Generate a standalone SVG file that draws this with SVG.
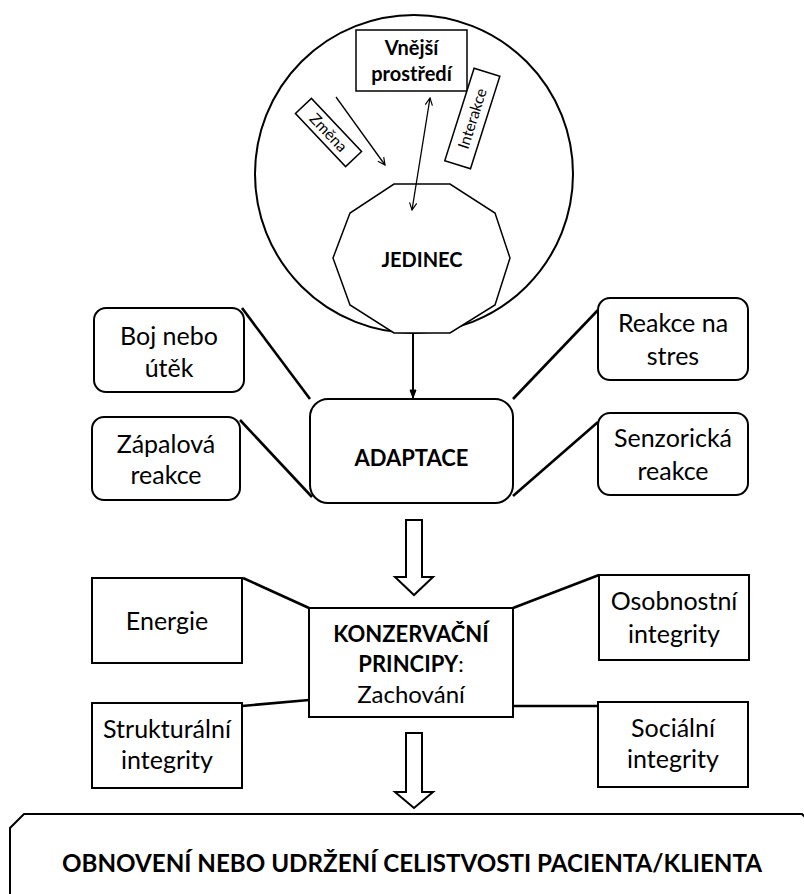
<svg xmlns="http://www.w3.org/2000/svg" width="804" height="894" viewBox="0 0 804 894">
<style>
  text { font-family: Lato, "Open Sans", "Liberation Sans", sans-serif; fill: #000; text-anchor: middle; }
  .r { font-size: 25px; }
  .b { font-size: 22px; font-weight: bold; }
  .s { font-size: 15.5px; }
  .box { fill: #fff; stroke: #000; stroke-width: 2; }
  .thin { fill: #fff; stroke: #000; stroke-width: 1.5; }
  .con { stroke: #000; stroke-width: 2.6; fill: none; }
  .arr { stroke: #000; stroke-width: 1.3; fill: none; }
  .hollow { fill: #fff; stroke: #000; stroke-width: 2; stroke-linejoin: miter; }
</style>
<defs>
  <marker id="v" viewBox="0 0 10 10" refX="9" refY="5" markerWidth="9" markerHeight="9" markerUnits="userSpaceOnUse" orient="auto-start-reverse">
    <path d="M1,1 L9,5 L1,9" fill="none" stroke="#000" stroke-width="1.3"/>
  </marker>
  <marker id="v2" viewBox="0 0 10 10" refX="9" refY="5" markerWidth="10" markerHeight="10" markerUnits="userSpaceOnUse" orient="auto">
    <path d="M1,2 L9,5 L1,8 Z" fill="#000" stroke="#000" stroke-width="1"/>
  </marker>
</defs>

<g id="okoli">
  <circle cx="414" cy="174" r="159" fill="#fff" stroke="#000" stroke-width="2"/>
</g>

<g id="vnejsi-prostredi">
  <rect x="356" y="30" width="111" height="61" class="thin"/>
  <text class="b" x="411.5" y="55" style="font-size:20px">Vnější</text>
  <text class="b" x="411.5" y="81" style="font-size:20px">prostředí</text>
</g>

<g id="zmena">
  <g transform="translate(328.5,132.5) rotate(46.6)">
    <rect x="-36.5" y="-11" width="73" height="22" class="thin"/>
    <text class="s" x="0" y="5.5">Změna</text>
  </g>
</g>

<g id="interakce">
  <g transform="translate(472.3,118.5) rotate(-72.4)">
    <rect x="-48.5" y="-13.5" width="97" height="27" class="thin"/>
    <text class="s" x="0" y="5.5">Interakce</text>
  </g>
</g>

<g id="jedinec">
  <polygon points="394,184 450,184 495,213 510,258 495,305 450,333 394,333 350,305 333,258 350,213" fill="#fff" stroke="#000" stroke-width="1.5"/>
  <text class="b" x="422" y="267" style="font-size:20px">JEDINEC</text>
</g>

<g id="boj">
  <rect x="94" y="308" width="150" height="84" rx="12" class="box"/>
  <text class="r" x="169" y="345">Boj nebo</text>
  <text class="r" x="169" y="377">útěk</text>
</g>
<g id="zapalova">
  <rect x="92" y="417" width="148" height="83" rx="12" class="box"/>
  <text class="r" x="166" y="453">Zápalová</text>
  <text class="r" x="166" y="484">reakce</text>
</g>
<g id="stres">
  <rect x="598" y="298" width="150" height="82" rx="12" class="box"/>
  <text class="r" x="673" y="332">Reakce na</text>
  <text class="r" x="673" y="365">stres</text>
</g>
<g id="senzoricka">
  <rect x="598" y="413" width="150" height="82" rx="12" class="box"/>
  <text class="r" x="673" y="447">Senzorická</text>
  <text class="r" x="673" y="480">reakce</text>
</g>
<g id="adaptace">
  <rect x="310" y="399" width="203" height="104" rx="18" class="box"/>
  <text class="b" x="411.5" y="466">ADAPTACE</text>
</g>

<g id="energie">
  <rect x="92" y="578" width="150" height="85" class="box"/>
  <text class="r" x="167" y="630">Energie</text>
</g>
<g id="osobnostni">
  <rect x="599" y="575" width="150" height="85" class="box"/>
  <text class="r" x="674" y="610">Osobnostní</text>
  <text class="r" x="674" y="643">integrity</text>
</g>
<g id="strukturalni">
  <rect x="92" y="703" width="150" height="85" class="box"/>
  <text class="r" x="167" y="738">Strukturální</text>
  <text class="r" x="167" y="769">integrity</text>
</g>
<g id="socialni">
  <rect x="598" y="702" width="150" height="85" class="box"/>
  <text class="r" x="673" y="737">Sociální</text>
  <text class="r" x="673" y="768">integrity</text>
</g>
<g id="konzervacni">
  <rect x="309" y="608" width="204" height="109" class="box"/>
  <text class="b" x="411" y="642">KONZERVAČNÍ</text>
  <text x="411" y="672" class="r" style="font-size:22px"><tspan font-weight="bold">PRINCIPY</tspan>:</text>
  <text class="r" x="411" y="703" style="font-size:24px">Zachování</text>
</g>

<g id="celistvost">
  <path d="M10,896 L10,828 L24,814 L802,814 L812,824 L812,896" fill="#fff" stroke="#000" stroke-width="2"/>
  <text class="b" x="412" y="872" style="font-size:24px" textLength="700" lengthAdjust="spacingAndGlyphs">OBNOVENÍ NEBO UDRŽENÍ CELISTVOSTI PACIENTA/KLIENTA</text>
</g>

<g id="connectors">
  <line x1="336" y1="97" x2="385" y2="165" class="arr" marker-end="url(#v)"/>
  <line x1="430" y1="98" x2="412" y2="210" class="arr" marker-start="url(#v)" marker-end="url(#v)"/>
  <line x1="413" y1="333" x2="413" y2="398" stroke="#000" stroke-width="2" marker-end="url(#v2)"/>
  <line x1="242" y1="308" x2="310" y2="399" class="con"/>
  <line x1="240" y1="420" x2="312" y2="497" class="con"/>
  <line x1="598" y1="310" x2="513" y2="399" class="con"/>
  <line x1="598" y1="422" x2="513" y2="496" class="con"/>
  <line x1="243" y1="578" x2="309" y2="608" class="con"/>
  <line x1="599" y1="575" x2="513" y2="608" class="con"/>
  <line x1="242" y1="706" x2="309" y2="700" class="con"/>
  <line x1="513" y1="706" x2="598" y2="706" class="con"/>
  <polygon points="406,520 422,520 422,577 433,577 414,595 395,577 406,577" class="hollow"/>
  <polygon points="406,733 422,733 422,792 433,792 414,808 395,792 406,792" class="hollow"/>
</g>
</svg>
